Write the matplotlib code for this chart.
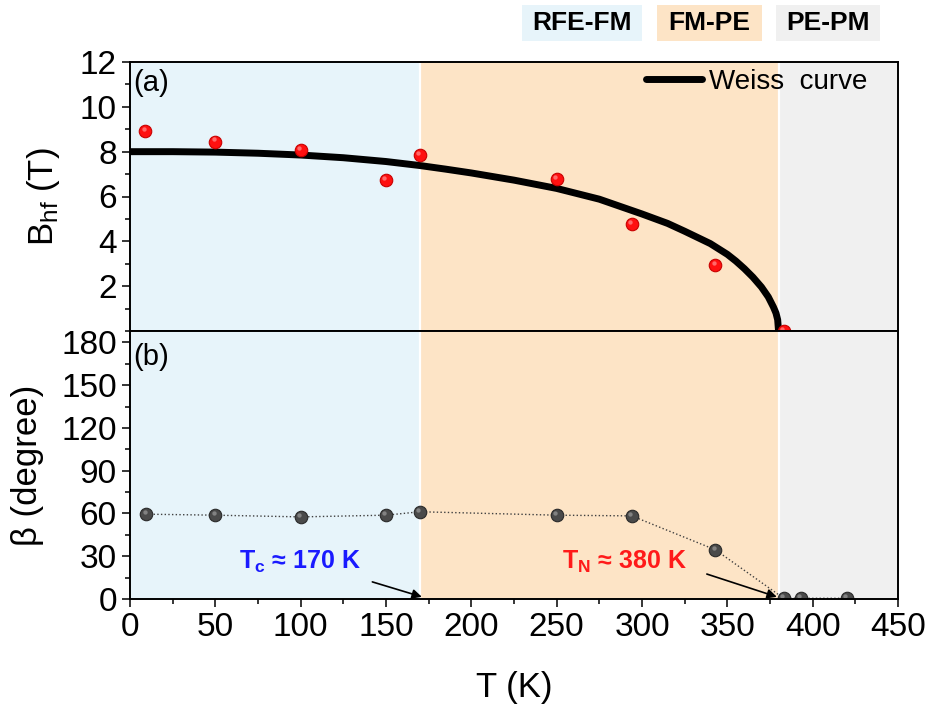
import matplotlib
matplotlib.use("Agg")
import matplotlib.pyplot as plt
import matplotlib.patches as mpatches
import matplotlib.transforms as mtransforms
from matplotlib.ticker import MultipleLocator
import numpy as np

# hyperfine field (red points) vs temperature
bhf_T = [9, 50, 100, 150, 170, 250, 294, 343, 383]
bhf_B = [8.93, 8.45, 8.07, 6.74, 7.83, 6.77, 4.78, 2.95, 0.0]

# Weiss curve
weiss_T = [0, 25, 50, 75, 100, 125, 150, 170, 185, 200, 225, 250, 275, 300,
           315, 325, 340, 350, 355, 360, 365, 370, 374, 377, 378.5, 379.5, 380]
weiss_B = [8.0, 8.0, 7.98, 7.93, 7.85, 7.73, 7.56, 7.38, 7.22, 7.05, 6.73, 6.36, 5.88, 5.22,
           4.8, 4.45, 3.9, 3.42, 3.12, 2.78, 2.4, 1.96, 1.52, 1.07, 0.8, 0.5, 0.0]

# canting angle beta (grey points)
beta_T = [9.5, 50, 100, 150, 170, 250, 294, 343, 383, 393, 420]
beta_deg = [59.5, 58.8, 57.6, 58.8, 61.2, 58.8, 58.3, 34.5, 0.5, 0.5, 0.5]

# phase regions
region_edges = [0, 170, 380, 450]
region_names = ["RFE-FM", "FM-PE", "PE-PM"]
region_colors = ["#e7f4fa", "#fde4c6", "#f0f0f0"]

plt.rcParams.update({
    "font.family": ["Liberation Sans", "DejaVu Sans"],
    "mathtext.fontset": "custom",
    "mathtext.rm": "Liberation Sans",
    "mathtext.it": "Liberation Sans:italic",
    "mathtext.bf": "Liberation Sans:bold",
    "axes.linewidth": 1.4,
    "xtick.major.width": 1.1,
    "ytick.major.width": 1.1,
    "xtick.minor.width": 1.1,
    "ytick.minor.width": 1.1,
    "xtick.major.size": 6,
    "ytick.major.size": 6,
    "xtick.minor.size": 3.5,
    "ytick.minor.size": 3.5,
    "xtick.direction": "out",
    "ytick.direction": "out",
})

W, H = 935, 712
fig = plt.figure(figsize=(W / 100, H / 100), dpi=100, facecolor="white")

L, R = 130 / W, 898 / W
y_bot, y_mid, y_top = 1 - 599 / H, 1 - 331 / H, 1 - 62 / H
ax_a = fig.add_axes([L, y_mid, R - L, y_top - y_mid])
ax_b = fig.add_axes([L, y_bot, R - L, y_mid - y_bot], sharex=ax_a)

for ax in (ax_a, ax_b):
    for i in range(3):
        ax.axvspan(region_edges[i], region_edges[i + 1], color=region_colors[i],
                   lw=0, zorder=0)
    for xb in region_edges[1:3]:
        ax.axvline(xb, color="white", lw=1.6, zorder=0.5)
    ax.set_xlim(0, 450)
    ax.xaxis.set_major_locator(MultipleLocator(50))
    ax.xaxis.set_minor_locator(MultipleLocator(25))
    ax.tick_params(axis="both", which="both", labelsize=24, top=False, right=False)
    for sp in ax.spines.values():
        sp.set_zorder(5)


def sphere(ax, x, y, face, edge, hi, size, zorder):
    ax.plot(x, y, "o", ms=size, mfc=face, mec=edge, mew=0.8, zorder=zorder,
            clip_on=True)
    off = mtransforms.offset_copy(ax.transData, fig=fig, x=-1.2, y=1.5, units="points")
    ax.plot(x, y, "o", ms=size * 0.35, mfc=hi, mec="none", alpha=0.7,
            transform=off, zorder=zorder + 0.1)


# (a) hyperfine field
ax_a.plot(weiss_T, weiss_B, color="black", lw=5, solid_capstyle="round",
          solid_joinstyle="round", zorder=3, label="Weiss  curve")
sphere(ax_a, bhf_T, bhf_B, "#ff1010", "#c80000", "#ff9090", 9, 4)
ax_a.set_ylim(0, 12)
ax_a.yaxis.set_minor_locator(MultipleLocator(1))
ax_a.set_yticks([2, 4, 6, 8, 10, 12])
ax_a.tick_params(axis="x", labelbottom=False)
ax_a.set_ylabel(r"B$_\mathrm{hf}$ (T)", fontsize=25)
ax_a.yaxis.set_label_coords(-0.088, 0.5)
ax_a.text(0.004, 0.975, "(a)", transform=ax_a.transAxes, fontsize=21,
          ha="left", va="top", zorder=6)
leg = ax_a.legend(loc="upper right", bbox_to_anchor=(0.96, 0.975), frameon=False,
                  fontsize=20, handlelength=2.0, handletextpad=0.25,
                  borderpad=0, borderaxespad=0)

# (b) canting angle
ax_b.plot(beta_T, beta_deg, ls=":", color="#404040", lw=1.0, zorder=3)
sphere(ax_b, beta_T, beta_deg, "#4a4a4a", "#2a2a2a", "#9a9a9a", 9, 4)
ax_b.set_ylim(0, 188)
ax_b.yaxis.set_major_locator(MultipleLocator(30))
ax_b.yaxis.set_minor_locator(MultipleLocator(15))
ax_b.set_xlabel("T (K)", fontsize=25, labelpad=20)
ax_b.set_ylabel("β (degree)", fontsize=25)
ax_b.yaxis.set_label_coords(-0.112, 0.5)
ax_b.text(0.004, 0.955, "(b)", transform=ax_b.transAxes, fontsize=21,
          ha="left", va="top", zorder=6)

ax_b.annotate("", xy=(171, 1.5), xytext=(142, 12),
              arrowprops=dict(arrowstyle="-|>", color="black", lw=1.2,
                              mutation_scale=14, shrinkA=0, shrinkB=0), zorder=6)
ax_b.annotate("", xy=(379, 1.5), xytext=(338, 17.5),
              arrowprops=dict(arrowstyle="-|>", color="black", lw=1.2,
                              mutation_scale=14, shrinkA=0, shrinkB=0), zorder=6)
ax_b.text(64, 26, r"T$_\mathbf{c}$ ≈ 170 K", color="#1a1aff", fontsize=18,
          fontweight="bold", ha="left", va="center", zorder=6)
ax_b.text(253, 26, r"T$_\mathbf{N}$ ≈ 380 K", color="#ff1a1a", fontsize=18,
          fontweight="bold", ha="left", va="center", zorder=6)

# phase labels above the plot
box_px = [(522, 642), (657, 762), (776, 880)]
for (x0, x1), name, col in zip(box_px, region_names, region_colors):
    fig.patches.append(mpatches.Rectangle((x0 / W, 1 - 41 / H), (x1 - x0) / W, 36 / H,
                                          transform=fig.transFigure, fc=col, ec="none"))
    fig.text((x0 + x1) / 2 / W, 1 - 23.5 / H, name, fontsize=19, fontweight="bold",
             ha="center", va="center")

fig.savefig("out.png", dpi=100)
